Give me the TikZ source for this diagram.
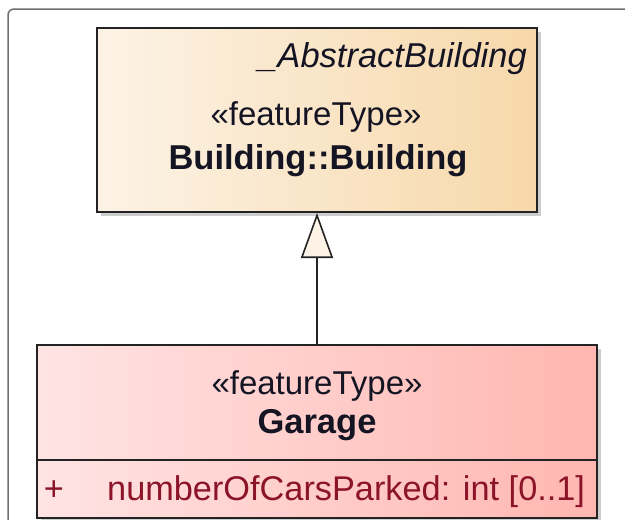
\documentclass[tikz,border=0pt]{standalone}
\usepackage{fontspec}
\setmainfont{Liberation Sans}
\usetikzlibrary{arrows.meta}
\definecolor{uppL}{RGB}{252,243,230}
\definecolor{uppR}{RGB}{247,216,170}
\definecolor{lowL}{RGB}{255,228,228}
\definecolor{lowR}{RGB}{255,182,176}
\definecolor{attrcol}{RGB}{140,20,40}
\definecolor{titlecol}{RGB}{20,20,35}
\definecolor{framecol}{RGB}{110,110,110}
\definecolor{shadowcol}{RGB}{205,205,205}
\definecolor{edgecol}{RGB}{35,35,35}
\tikzset{
  classbox/.style={draw=edgecol, line width=2pt, inner sep=0pt},
  stereo/.style={inner sep=0pt, text=titlecol, font=\fontsize{33}{40}\selectfont},
  titletext/.style={inner sep=0pt, text=titlecol, font=\fontsize{34.5}{40}\selectfont\bfseries},
  abstext/.style={inner sep=0pt, text=titlecol, font=\fontsize{34.5}{40}\selectfont\itshape},
  attrtext/.style={inner sep=0pt, text=attrcol, font=\fontsize{34.3}{40}\selectfont},
  gen/.style={draw=edgecol, line width=1.6pt, -{Triangle[length=45pt, width=32pt, fill=uppL]}}
}
\begin{document}
\begin{tikzpicture}[x=1pt,y=-1pt]
\useasboundingbox (0,0) rectangle (625,520);
\begin{scope}
\clip (0,0) rectangle (625,520);
% outer frame
\draw[framecol, line width=1.5pt, rounded corners=6pt] (700,9) -- (8,9) -- (8,600);
% shadows
\fill[shadowcol] (101,32) rectangle (541,216);
\fill[shadowcol] (41,349) rectangle (601,540);
% fills
\shade[left color=uppL, right color=uppR] (97,28) rectangle (537,212);
\shade[left color=lowL, right color=lowR] (37,345) rectangle (597,518);
% boxes
\node[classbox, minimum width=440pt, minimum height=184pt] (building) at (317,120) {};
\node[classbox, minimum width=560pt, minimum height=173pt] (garage) at (317,431.5) {};
\coordinate (divL) at (37,460);
\coordinate (divR) at (597,460);
\draw[edgecol, line width=2pt] (divL) -- (divR);
% texts
\node[abstext, anchor=base east] (abs) at (527,67) {\_AbstractBuilding};
\node[stereo, anchor=base] (st1) at (316,125) {«featureType»};
\node[titletext, anchor=base] (t1) at (318,169) {Building::Building};
\node[stereo, anchor=base] (st2) at (317,394) {«featureType»};
\node[titletext, anchor=base] (t2) at (317,433) {Garage};
\node[attrtext, anchor=base] (plus) at (54,500) {+};
\node[attrtext, anchor=base west] (attr) at (107,500) {numberOfCarsParked: int [0..1]};
% generalization
\draw[gen] (garage.north) -- (building.south);
\end{scope}
\end{tikzpicture}
\end{document}
